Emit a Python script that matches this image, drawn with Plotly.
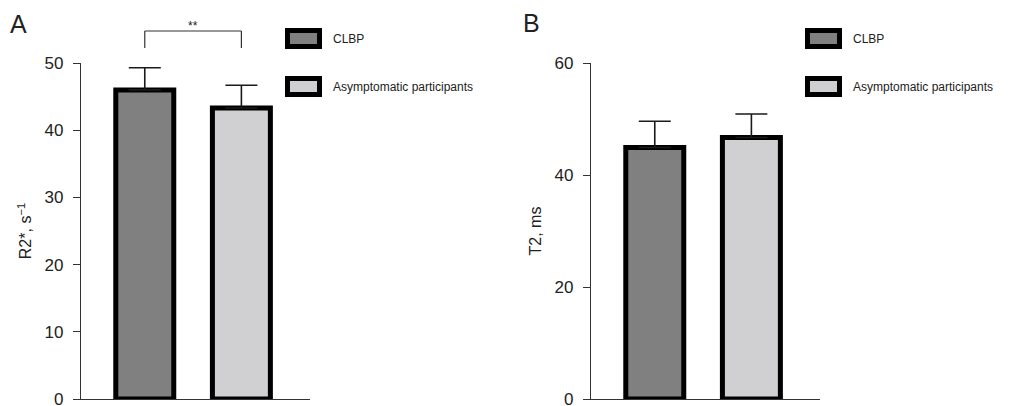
import plotly.graph_objects as go

# ---- data ----
groups = ["CLBP", "Asymptomatic participants"]
r2_mean = [46.0, 43.3]
r2_sd = [3.3, 3.4]
t2_mean = [44.9, 46.7]
t2_sd = [4.7, 4.2]
r2_ticks = [0, 10, 20, 30, 40, 50]
t2_ticks = [0, 20, 40, 60]
bar_colors = ["#808080", "#d0d0d2"]

W, H = 1014, 406
FONT = "Liberation Sans, Arial, sans-serif"
TXT = "#222222"


def px(x):
    return x / W


def py(y):
    return (H - y) / H


fig = go.Figure()

for i, g in enumerate(groups):
    fig.add_trace(go.Bar(
        x=[g], y=[r2_mean[i]], name=g, xaxis="x", yaxis="y",
        width=0.60, marker=dict(color=bar_colors[i], line=dict(color="black", width=5)),
        error_y=dict(type="data", array=[r2_sd[i]], arrayminus=[0], symmetric=False,
                     color="#1a1a1a", thickness=1.6, width=16),
        showlegend=False,
    ))
    fig.add_trace(go.Bar(
        x=[g], y=[t2_mean[i]], name=g, xaxis="x2", yaxis="y2",
        width=0.60, marker=dict(color=bar_colors[i], line=dict(color="black", width=5)),
        error_y=dict(type="data", array=[t2_sd[i]], arrayminus=[0], symmetric=False,
                     color="#1a1a1a", thickness=1.6, width=16),
        showlegend=False,
    ))

ydom = [py(399), py(63)]
axis_common = dict(showgrid=False, zeroline=False, showline=True, linecolor="#333333",
                   linewidth=1.2)
xcommon = dict(axis_common, type="category", categoryorder="array", categoryarray=groups,
               range=[-0.66, 1.71], showticklabels=False, ticks="")
ycommon = dict(axis_common, ticks="outside", ticklen=7, tickwidth=1.2, tickcolor="#333333",
               tickfont=dict(family=FONT, size=17, color=TXT), ticklabelstandoff=6,
               ticklabeloverflow="allow")

fig.update_layout(
    width=W, height=H, margin=dict(l=0, r=0, t=0, b=0, autoexpand=False),
    paper_bgcolor="white", plot_bgcolor="white", barmode="overlay",
    font=dict(family=FONT, color=TXT),
    xaxis=dict(xcommon, domain=[px(81), px(310)], anchor="y"),
    yaxis=dict(ycommon, domain=ydom, anchor="x", range=[0, 50], tickvals=r2_ticks,
               title=dict(text="R2*, s<sup>−1</sup>", font=dict(family=FONT, size=16, color=TXT),
                          standoff=8)),
    xaxis2=dict(xcommon, domain=[px(591), px(820)], anchor="y2"),
    yaxis2=dict(ycommon, domain=ydom, anchor="x2", range=[0, 60], tickvals=t2_ticks,
                title=dict(text="T2, ms", font=dict(family=FONT, size=16, color=TXT),
                           standoff=8)),
)

shapes = []
annotations = []

# significance bracket (panel A)
shapes.append(dict(type="line", xref="x", yref="paper", x0=0, x1=0, y0=py(48), y1=py(31),
                   line=dict(color="#333333", width=1.2)))
shapes.append(dict(type="line", xref="x", yref="paper", x0=1, x1=1, y0=py(48), y1=py(31),
                   line=dict(color="#333333", width=1.2)))
shapes.append(dict(type="line", xref="x", yref="paper", x0=0, x1=1, y0=py(31), y1=py(31),
                   line=dict(color="#333333", width=1.2)))
annotations.append(dict(text="**", xref="x", yref="paper", x=0.5, y=py(26), showarrow=False,
                        font=dict(family=FONT, size=12, color=TXT), yanchor="middle"))

# legends (drawn as swatches + text)
for lx in (285, 805):
    for j, (cy, g) in enumerate(zip((38.5, 86.5), groups)):
        shapes.append(dict(type="rect", xref="paper", yref="paper",
                           x0=px(lx + 2.5), x1=px(lx + 34.5), y0=py(cy - 8), y1=py(cy + 8),
                           fillcolor=bar_colors[j], line=dict(color="black", width=5)))
        annotations.append(dict(text=g, xref="paper", yref="paper", x=px(lx + 46), y=py(cy),
                                xanchor="left", yanchor="middle", showarrow=False,
                                font=dict(family=FONT, size=12, color=TXT)))

# panel letters
annotations.append(dict(text="A", xref="paper", yref="paper", x=px(8), y=py(24),
                        xanchor="left", yanchor="middle", showarrow=False,
                        font=dict(family=FONT, size=25, color=TXT)))
annotations.append(dict(text="B", xref="paper", yref="paper", x=px(521), y=py(23),
                        xanchor="left", yanchor="middle", showarrow=False,
                        font=dict(family=FONT, size=25, color=TXT)))

fig.update_layout(shapes=shapes, annotations=annotations)
fig.write_html(
    "out.html",
    config={"displayModeBar": False},
    post_script="document.body.style.margin='0';document.body.style.overflow='hidden';",
)
